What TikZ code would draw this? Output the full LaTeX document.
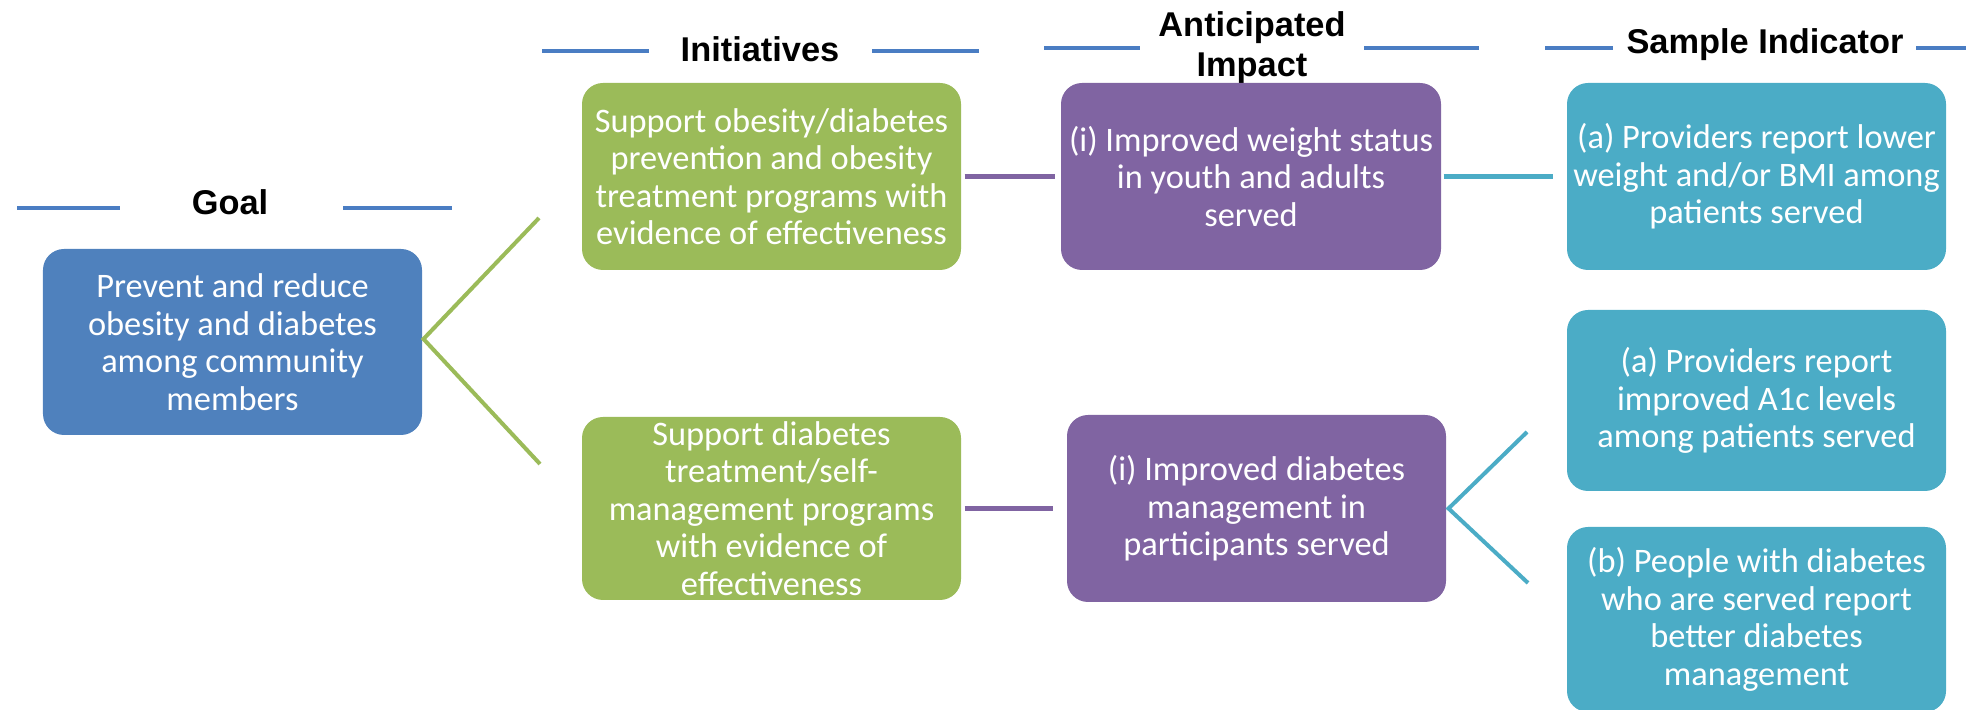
\documentclass[tikz,border=0pt]{standalone}
\usepackage{fontspec}
\setmainfont{Carlito}
\newfontfamily\titlefont{Liberation Sans}
\definecolor{goalblue}{HTML}{4F81BD}
\definecolor{hdrblue}{HTML}{4A7DC3}
\definecolor{initgreen}{HTML}{9BBB59}
\definecolor{imppurple}{HTML}{8064A2}
\definecolor{indteal}{HTML}{4BACC6}
\begin{document}
\begin{tikzpicture}[x=0.4pt,y=-0.4pt,
  box/.style={rounded corners=8.4pt, inner sep=0pt, align=center, text=white,
    font=\fontsize{13.75}{15}\selectfont, minimum width=151.6pt},
  goalbox/.style={box, fill=goalblue},
  initbox/.style={box, fill=initgreen},
  impbox/.style={box, fill=imppurple},
  indbox/.style={box, fill=indteal},
  title/.style={font=\titlefont\bfseries\fontsize{13.75}{16}\selectfont, inner sep=0pt, anchor=base, align=center},
  hdr/.style={draw=hdrblue, line width=1.7pt},
  link/.style={line width=2.2pt},
  fork/.style={line width=1.6pt}
]
\useasboundingbox (0,0) rectangle (1966,710);

% titles
\node[title] (tgoal) at (230,215) {Goal};
\node[title] (tinit) at (760,62) {Initiatives};
\node[title, anchor=north] (timp) at (1252,11) {Anticipated\\Impact};
\node[title] (tind) at (1765,54) {Sample Indicator};

\draw[hdr] (17,208) -- (120,208);
\draw[hdr] (343,208) -- (452,208);
\draw[hdr] (542,51) -- (649,51);
\draw[hdr] (872,51) -- (979,51);
\draw[hdr] (1044,48) -- (1140,48);
\draw[hdr] (1364,48) -- (1479,48);
\draw[hdr] (1545,48) -- (1613,48);
\draw[hdr] (1916,48) -- (1970,48);

% boxes
\node[goalbox, minimum height=74.4pt] (goal) at (232.5,342)
  {Prevent and reduce\\obesity and diabetes\\among community\\members};
\node[initbox, minimum height=74.8pt] (g1) at (771.5,176.5)
  {Support obesity/diabetes\\prevention and obesity\\treatment programs with\\evidence of effectiveness};
\node[impbox, minimum height=74.8pt, minimum width=152pt] (p1) at (1251,176.5)
  {(i) Improved weight status\\in youth and adults\\served};
\node[indbox, minimum height=74.8pt] (t1) at (1756.5,176.5)
  {(a) Providers report lower\\weight and/or BMI among\\patients served};
\node[initbox, minimum height=73.2pt] (g2) at (771.5,508.5)
  {Support diabetes\\treatment/self-\\management programs\\with evidence of\\effectiveness};
\node[impbox, minimum height=74.8pt] (p2) at (1256.5,508.5)
  {(i) Improved diabetes\\management in\\participants served};
\node[indbox, minimum height=72.4pt] (t2) at (1756.5,400.5)
  {(a) Providers report\\improved A1c levels\\among patients served};
\node[indbox, minimum height=74pt] (t3) at (1756.5,619.5)
  {(b) People with diabetes\\who are served report\\better diabetes\\management};

% connectors
\coordinate (gv) at ([xshift=0.4pt,yshift=1.2pt]goal.east);
\coordinate (gtop) at (539,218);
\coordinate (gbot) at (540,464);
\draw[fork, draw=initgreen] (gtop) -- (gv) -- (gbot);

\draw[link, draw=imppurple, shorten <=1.2pt, shorten >=2.4pt] (g1.east) -- (p1.west);
\draw[link, draw=indteal, shorten <=0.8pt, shorten >=5.6pt] (p1.east) -- (t1.west);
\draw[link, draw=imppurple, shorten <=1.2pt, shorten >=5.6pt] (g2.east) -- (p2.west);

\coordinate (tv) at ([xshift=0.8pt]p2.east);
\coordinate (ttop) at (1527,432);
\coordinate (tbot) at (1528,583);
\draw[fork, draw=indteal] (ttop) -- (tv) -- (tbot);
\end{tikzpicture}
\end{document}
